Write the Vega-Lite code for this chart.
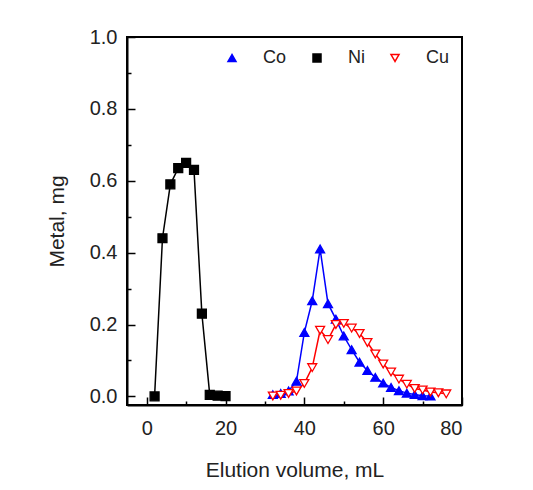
{
  "$schema": "https://vega.github.io/schema/vega-lite/v6.json",
  "autosize": "none",
  "width": 335,
  "height": 368,
  "padding": {"left": 127, "top": 37, "right": 71, "bottom": 85},
  "background": "white",
  "config": {
    "view": {"stroke": "black", "strokeWidth": 2},
    "font": "Liberation Sans",
    "axis": {
      "domainColor": "black",
      "domainWidth": 2,
      "tickColor": "black",
      "tickWidth": 1.5,
      "grid": false,
      "labelFont": "Liberation Sans",
      "labelFontSize": 20,
      "labelColor": "#222",
      "titleFont": "Liberation Sans",
      "titleFontSize": 21,
      "titleFontWeight": "normal",
      "titleColor": "#222"
    },
    "legend": {
      "labelFont": "Liberation Sans",
      "labelFontSize": 18,
      "labelColor": "#222"
    }
  },
  "data": {
    "values": [
      {"s": "Ni", "v": 2, "m": 0.0},
      {"s": "Ni", "v": 4, "m": 0.44},
      {"s": "Ni", "v": 6, "m": 0.59},
      {"s": "Ni", "v": 8, "m": 0.635},
      {"s": "Ni", "v": 10, "m": 0.65},
      {"s": "Ni", "v": 12, "m": 0.63},
      {"s": "Ni", "v": 14, "m": 0.23},
      {"s": "Ni", "v": 16, "m": 0.004},
      {"s": "Ni", "v": 18, "m": 0.002},
      {"s": "Ni", "v": 20, "m": 0.001},
      {"s": "Co", "v": 32, "m": 0.005},
      {"s": "Co", "v": 34, "m": 0.008},
      {"s": "Co", "v": 36, "m": 0.015},
      {"s": "Co", "v": 38, "m": 0.042},
      {"s": "Co", "v": 40, "m": 0.178},
      {"s": "Co", "v": 42, "m": 0.266},
      {"s": "Co", "v": 44, "m": 0.41},
      {"s": "Co", "v": 46, "m": 0.258},
      {"s": "Co", "v": 48, "m": 0.215},
      {"s": "Co", "v": 50, "m": 0.168},
      {"s": "Co", "v": 52, "m": 0.13},
      {"s": "Co", "v": 54, "m": 0.095},
      {"s": "Co", "v": 56, "m": 0.072},
      {"s": "Co", "v": 58, "m": 0.053},
      {"s": "Co", "v": 60, "m": 0.037},
      {"s": "Co", "v": 62, "m": 0.025},
      {"s": "Co", "v": 64, "m": 0.016},
      {"s": "Co", "v": 66, "m": 0.009},
      {"s": "Co", "v": 68, "m": 0.005},
      {"s": "Co", "v": 70, "m": 0.002},
      {"s": "Co", "v": 72, "m": 0.001},
      {"s": "Cu", "v": 32, "m": 0.001},
      {"s": "Cu", "v": 34, "m": 0.003},
      {"s": "Cu", "v": 36, "m": 0.008},
      {"s": "Cu", "v": 38, "m": 0.015},
      {"s": "Cu", "v": 40, "m": 0.036},
      {"s": "Cu", "v": 42, "m": 0.08},
      {"s": "Cu", "v": 44, "m": 0.184},
      {"s": "Cu", "v": 46, "m": 0.158},
      {"s": "Cu", "v": 48, "m": 0.2},
      {"s": "Cu", "v": 50, "m": 0.203},
      {"s": "Cu", "v": 52, "m": 0.19},
      {"s": "Cu", "v": 54, "m": 0.175},
      {"s": "Cu", "v": 56, "m": 0.15},
      {"s": "Cu", "v": 58, "m": 0.118},
      {"s": "Cu", "v": 60, "m": 0.09},
      {"s": "Cu", "v": 62, "m": 0.068},
      {"s": "Cu", "v": 64, "m": 0.048},
      {"s": "Cu", "v": 66, "m": 0.034},
      {"s": "Cu", "v": 68, "m": 0.022},
      {"s": "Cu", "v": 70, "m": 0.018},
      {"s": "Cu", "v": 72, "m": 0.012},
      {"s": "Cu", "v": 74, "m": 0.01},
      {"s": "Cu", "v": 76, "m": 0.007}
    ]
  },
  "encoding": {
    "x": {
      "field": "v", "type": "quantitative",
      "scale": {"domain": [-5, 80], "nice": false, "zero": false},
      "axis": {
        "title": "Elution volume, mL",
        "values": [0, 10, 20, 30, 40, 50, 60, 70, 80],
        "labelExpr": "datum.value % 20 === 0 ? datum.label : ''",
        "tickSize": {"condition": {"test": "datum.value % 20 !== 0", "value": -4}, "value": -8},
        "labelPadding": 21,
        "titlePadding": 21
      }
    },
    "y": {
      "field": "m", "type": "quantitative",
      "scale": {"domain": [-0.024, 1.0], "nice": false, "zero": false},
      "axis": {
        "title": "Metal, mg",
        "values": [0, 0.1, 0.2, 0.3, 0.4, 0.5, 0.6, 0.7, 0.8, 0.9, 1.0],
        "labelExpr": "round(datum.value * 10) % 2 === 1 ? '' : format(datum.value, '.1f')",
        "tickSize": {"condition": {"test": "round(datum.value * 10) % 2 === 1", "value": -4}, "value": -8},
        "labelPadding": 18,
        "titlePadding": 22
      }
    }
  },
  "layer": [
    {
      "mark": {"type": "line", "strokeWidth": 1.5},
      "encoding": {
        "detail": {"field": "s"},
        "stroke": {
          "field": "s", "type": "nominal",
          "scale": {"domain": ["Co", "Ni", "Cu"], "range": ["#0000ff", "#000000", "#ff0000"]}
        }
      }
    },
    {
      "mark": {"type": "point", "size": 80, "opacity": 1, "strokeWidth": 1.3},
      "encoding": {
        "shape": {
          "field": "s", "type": "nominal",
          "scale": {"domain": ["Co", "Ni", "Cu"], "range": ["triangle-up", "square", "triangle-down"]},
          "legend": {
            "title": null,
            "orient": "top-right",
            "direction": "horizontal",
            "offset": 12,
            "padding": 0,
            "columnPadding": 21,
            "symbolSize": 64,
            "labelOffset": 22,
            "symbolStrokeWidth": 1.5
          }
        },
        "fill": {
          "field": "s", "type": "nominal",
          "scale": {"domain": ["Co", "Ni", "Cu"], "range": ["#0000ff", "#000000", "#ffffff"]}
        },
        "stroke": {
          "field": "s", "type": "nominal"
        }
      }
    }
  ]
}
